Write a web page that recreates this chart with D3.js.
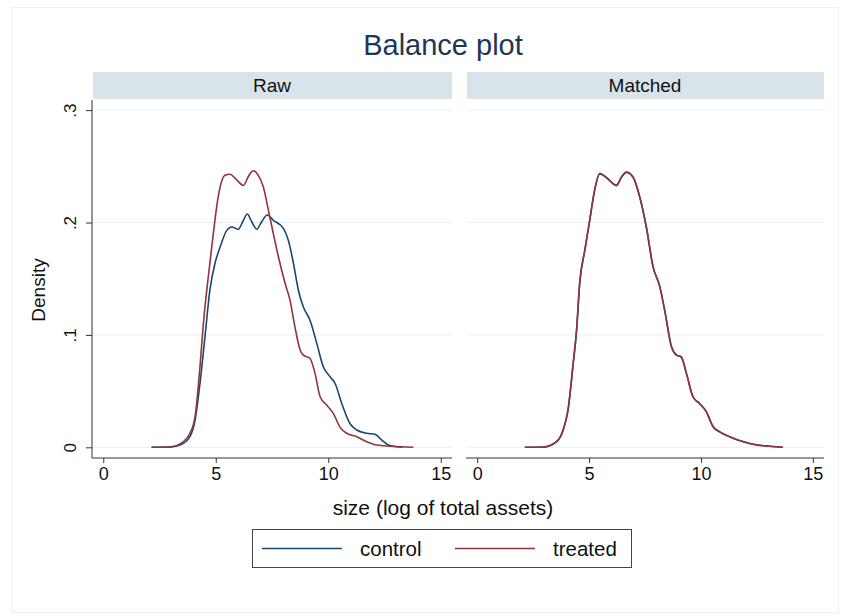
<!DOCTYPE html>
<html>
<head>
<meta charset="utf-8">
<script src="https://cdn.jsdelivr.net/npm/d3@7"></script>
<style>
  body { margin: 0; background: #fff; }
  text { font-family: "Liberation Sans", Arial, sans-serif; }
</style>
</head>
<body>
<svg id="chart" width="841" height="614"></svg>
<script>
// panels, groups and ticks
const panels = ["Raw", "Matched"];
const groups = ["control", "treated"];
const xTicks = [0, 5, 10, 15];
const yTicks = [0, 0.1, 0.2, 0.3];
const yTickLabels = ["0", ".1", ".2", ".3"];

// kernel density estimates: [size, density]
const rawControl = [[2.15,0],[3.0,0.0005],[3.41,0.002],[3.85,0.0095],[4.08,0.024],[4.3,0.057],[4.52,0.098],[4.74,0.14],[4.97,0.164],[5.19,0.178],[5.49,0.193],[5.71,0.196],[6.0,0.194],[6.23,0.202],[6.4,0.2076],[6.6,0.2007],[6.82,0.194],[7.04,0.2007],[7.29,0.2067],[7.56,0.202],[8.0,0.195],[8.23,0.184],[8.45,0.164],[8.67,0.14],[8.89,0.125],[9.19,0.113],[9.49,0.0925],[9.78,0.0717],[10.08,0.0628],[10.3,0.057],[10.6,0.039],[10.97,0.021],[11.27,0.0154],[11.71,0.0125],[12.08,0.0116],[12.38,0.0065],[12.67,0.002],[13.05,0.0005],[13.3,0]];
const rawTreated = [[2.15,0],[2.97,0],[3.41,0.003],[3.85,0.0125],[4.08,0.027],[4.3,0.072],[4.45,0.11],[4.67,0.152],[4.89,0.19],[5.11,0.223],[5.41,0.242],[5.63,0.243],[5.93,0.238],[6.23,0.233],[6.45,0.241],[6.67,0.246],[6.89,0.242],[7.11,0.232],[7.34,0.211],[7.56,0.19],[7.78,0.17],[8.08,0.146],[8.3,0.131],[8.52,0.107],[8.75,0.0866],[8.89,0.082],[9.19,0.079],[9.41,0.066],[9.64,0.045],[9.93,0.0376],[10.23,0.03],[10.52,0.018],[10.82,0.0125],[11.27,0.0094],[11.71,0.005],[12.16,0.002],[12.75,0.001],[13.78,0]];
const matchedControl = [[2.13,0],[2.95,0.0003],[3.54,0.0048],[3.84,0.0152],[4.06,0.0335],[4.29,0.0745],[4.44,0.1035],[4.58,0.1458],[4.81,0.1752],[5.03,0.2022],[5.25,0.2288],[5.48,0.2432],[5.78,0.2398],[6.22,0.2328],[6.45,0.2402],[6.67,0.2446],[6.96,0.2405],[7.26,0.2232],[7.56,0.1958],[7.86,0.1605],[8.16,0.1432],[8.38,0.1218],[8.68,0.0898],[8.9,0.0822],[9.12,0.0802],[9.35,0.0658],[9.64,0.0452],[9.94,0.0388],[10.24,0.0318],[10.54,0.0185],[10.83,0.0138],[11.28,0.0095],[11.88,0.0051],[12.47,0.0022],[13.07,0.001],[13.66,0]];
const matchedTreated = [[2.13,0],[2.95,0],[3.54,0.005],[3.84,0.0154],[4.06,0.033],[4.29,0.0747],[4.44,0.104],[4.58,0.146],[4.81,0.1755],[5.03,0.202],[5.25,0.229],[5.48,0.2438],[5.78,0.24],[6.22,0.2334],[6.45,0.2407],[6.67,0.245],[6.96,0.2407],[7.26,0.223],[7.56,0.196],[7.86,0.1607],[8.16,0.143],[8.38,0.122],[8.68,0.0895],[8.9,0.082],[9.12,0.0806],[9.35,0.066],[9.64,0.045],[9.94,0.039],[10.24,0.0317],[10.54,0.0183],[10.83,0.0139],[11.28,0.0094],[11.88,0.005],[12.47,0.0023],[13.07,0.001],[13.66,0]];

const series = {
    "Raw": { control: rawControl, treated: rawTreated },
    "Matched": { control: matchedControl, treated: matchedTreated }
};

const colors = { control: "#1a476f", treated: "#90353b" }; // stata navy / maroon

const svg = d3.select("#chart");

// light outer frame of the graph region
svg.append("rect")
    .attr("x", 11.5).attr("y", 7.5)
    .attr("width", 827).attr("height", 605)
    .attr("fill", "none")
    .attr("stroke", "#eef0f1");

// panel positions
const panelX = { "Raw": [92, 452], "Matched": [466, 824] };
const plotTop = 100, plotBottom = 458;

const y = d3.scaleLinear().domain([-0.0095, 0.309]).range([plotBottom, plotTop]);

svg.append("text")
    .attr("x", 443).attr("y", 55)
    .attr("text-anchor", "middle")
    .attr("font-size", "29px")
    .attr("fill", "#1e3656")
    .text("Balance plot");

panels.forEach(p => {
    const x = d3.scaleLinear().domain([-0.5, 15.5]).range(panelX[p]);
    const g = svg.append("g").attr("class", "panel");

    // strip header
    g.append("rect")
        .attr("x", panelX[p][0] + 1).attr("y", 72)
        .attr("width", panelX[p][1] - panelX[p][0] - 1).attr("height", 27)
        .attr("fill", "#d8e4ea");
    g.append("text")
        .attr("x", (panelX[p][0] + panelX[p][1]) / 2).attr("y", 92)
        .attr("text-anchor", "middle")
        .attr("font-size", "19px")
        .attr("fill", "#111")
        .text(p);

    // grid
    g.append("g").selectAll("line")
        .data(yTicks).enter().append("line")
        .attr("x1", panelX[p][0] + 1).attr("x2", panelX[p][1])
        .attr("y1", d => y(d)).attr("y2", d => y(d))
        .attr("stroke", "#eaeff1").attr("stroke-width", 1);

    // x axis
    const xAxis = d3.axisBottom(x).tickValues(xTicks).tickSize(5).tickPadding(4).tickFormat(d3.format("d"));
    const ax = g.append("g")
        .attr("transform", `translate(0,${plotBottom})`)
        .call(xAxis);
    ax.select(".domain").attr("d", `M${panelX[p][0]},0H${panelX[p][1]}`).attr("stroke", "#333");
    ax.selectAll(".tick line").attr("stroke", "#333");
    ax.selectAll(".tick text").attr("font-size", "18px").attr("fill", "#111")
        .attr("font-family", '"Liberation Sans", Arial, sans-serif');

    // y axis on the first panel only
    if (p === "Raw") {
        const yAxis = d3.axisLeft(y).tickValues(yTicks).tickSize(6).tickFormat((d, i) => yTickLabels[i]);
        const ay = g.append("g")
            .attr("transform", `translate(${panelX[p][0]},0)`)
            .call(yAxis);
        ay.select(".domain").attr("d", `M0,${plotTop}V${plotBottom}`).attr("stroke", "#333");
        ay.selectAll(".tick line").attr("stroke", "#333");
        ay.selectAll(".tick text")
            .attr("font-size", "17px").attr("fill", "#111")
            .attr("font-family", '"Liberation Sans", Arial, sans-serif')
            .attr("text-anchor", "middle")
            .attr("x", 0).attr("dy", 0)
            .attr("transform", "translate(-16,0) rotate(-90)");
    }

    // density lines
    const line = d3.line().curve(d3.curveMonotoneX).x(d => x(d[0])).y(d => y(d[1]));
    groups.forEach(gr => {
        g.append("path")
            .datum(series[p][gr])
            .attr("d", line)
            .attr("fill", "none")
            .attr("stroke", colors[gr])
            .attr("stroke-width", 1.6);
    });
});

// axis titles
svg.append("text")
    .attr("transform", "translate(45,290) rotate(-90)")
    .attr("text-anchor", "middle")
    .attr("font-size", "19px")
    .attr("fill", "#111")
    .text("Density");

svg.append("text")
    .attr("x", 443).attr("y", 515)
    .attr("text-anchor", "middle")
    .attr("font-size", "21px")
    .attr("fill", "#111")
    .text("size (log of total assets)");

// legend
const legend = svg.append("g").attr("class", "legend");
legend.append("rect")
    .attr("x", 252.5).attr("y", 529.5)
    .attr("width", 379).attr("height", 38)
    .attr("fill", "#fff").attr("stroke", "#444");

const legendItems = legend.selectAll("g.item")
    .data(groups).enter().append("g")
    .attr("class", "item")
    .attr("transform", (d, i) => `translate(${262 + i * 193},548.5)`);
legendItems.append("line")
    .attr("x1", 0).attr("x2", 80)
    .attr("stroke", d => colors[d]).attr("stroke-width", 1.6);
legendItems.append("text")
    .attr("x", 98).attr("y", 7)
    .attr("font-size", "20.5px")
    .attr("fill", "#111")
    .text(d => d);
</script>
</body>
</html>
